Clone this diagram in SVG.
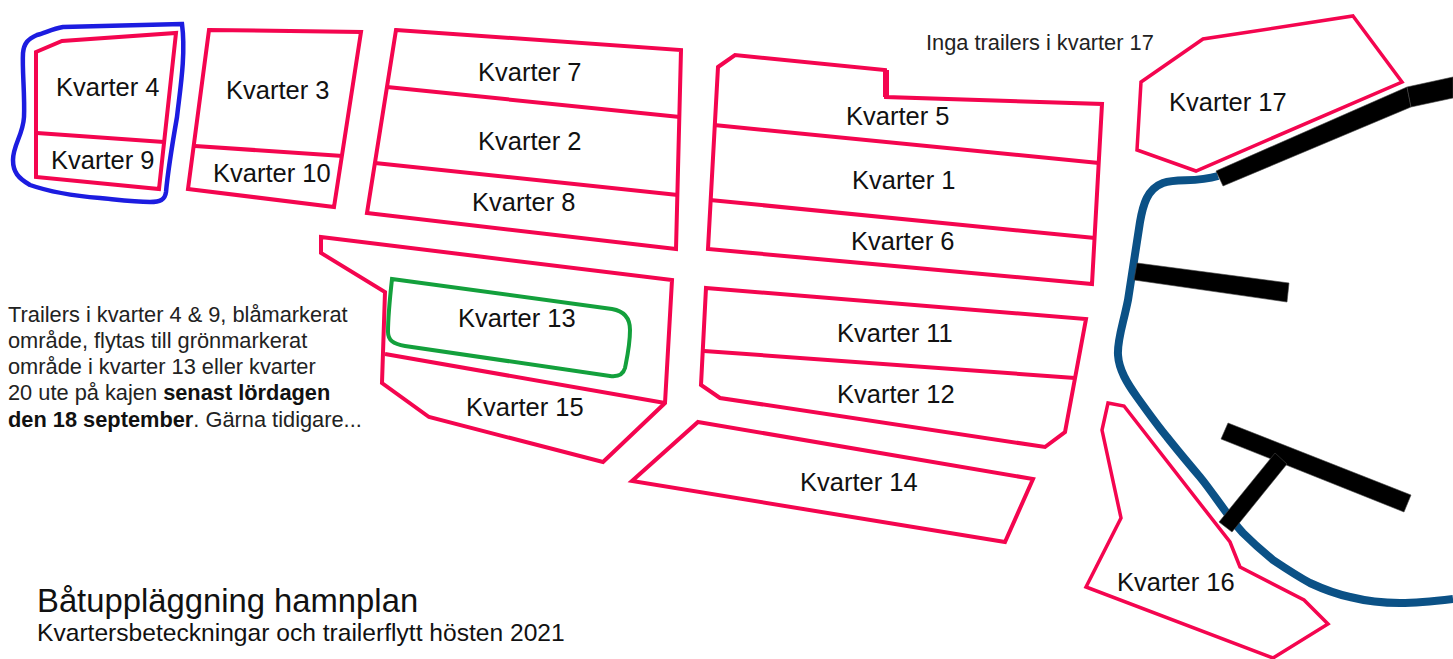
<svg xmlns="http://www.w3.org/2000/svg" width="1453" height="659" viewBox="0 0 1453 659">
<style>
.q{fill:none;stroke:#f4054f;stroke-width:4;stroke-linejoin:miter}
.t{font-family:"Liberation Sans",Arial,sans-serif;font-size:25.5px;fill:#111}
.n{font-family:"Liberation Sans",Arial,sans-serif;font-size:21.8px;fill:#222}
.p{fill:#000;stroke:#444;stroke-width:.6}
</style>
<rect width="1453" height="659" fill="#fff"/>
<g id="water">
<path d="M1218 176C1195 183 1178 178 1163 183C1147 189 1143 205 1140 222L1128 300C1123 325 1117 340 1118 355C1119 370 1127 383 1137 397C1147 411 1157 425 1167 437C1178 451 1189 464 1200 477C1214 494 1228 517 1243 533C1252 542 1262 551 1273 560C1285 568 1297 576 1310 583C1323 589 1336 594 1350 597C1366 601 1383 603 1400 603C1418 603 1436 601 1453 599" fill="none" stroke="#0b5186" stroke-width="8"/>
</g>
<g id="piers">
<polygon class="p" points="1216,171 1407,87 1411,107 1223,186"/>
<polygon class="p" points="1407,87 1453,77 1453,98 1411,107"/>
<polygon class="p" points="1137,263 1289,283 1287,302 1134,280"/>
<polygon class="p" points="1228,423 1411,495 1404,512 1221,439"/>
<polygon class="p" points="1275,453 1287,464 1232,532 1219,522"/>
</g>
<g id="kv4-9">
<polygon class="q" points="36,52 62,41 176,33 159,189 36,177"/>
<line class="q" x1="37" y1="133" x2="164" y2="142"/>
<text class="t" x="56" y="96">Kvarter 4</text>
<text class="t" x="51" y="169">Kvarter 9</text>
</g>
<g id="blue-area">
<path d="M182 24L63 27C52 29 45 33 37 35C28 39 24 43 23 53C22 70 25 95 24 117C23 135 13 145 13 160C13 172 18 178 30 185C50 192 75 196 100 198C120 200 135 202 150 202C160 202 165 200 166 192C168 170 173 140 177 117C180 90 186 55 182 24Z" fill="none" stroke="#1c1ce0" stroke-width="4.5"/>
</g>
<g id="kv3-10">
<polygon class="q" points="209,30 361,32 334,207 188,189"/>
<line class="q" x1="195" y1="146" x2="343" y2="156"/>
<text class="t" x="226" y="99">Kvarter 3</text>
<text class="t" x="213" y="182">Kvarter 10</text>
</g>
<g id="kv7-2-8">
<polygon class="q" points="396,30 681,50 676,249 367,213"/>
<line class="q" x1="387" y1="87" x2="680" y2="117"/>
<line class="q" x1="375" y1="163" x2="678" y2="195"/>
<text class="t" x="478" y="81">Kvarter 7</text>
<text class="t" x="478" y="150">Kvarter 2</text>
<text class="t" x="472" y="211">Kvarter 8</text>
</g>
<g id="kv5-1-6">
<polygon class="q" points="718,67 735,55 885,70 886,97 1102,104 1092,284 708,249"/>
<line class="q" x1="886" y1="70" x2="886" y2="97" style="stroke-width:6"/>
<line class="q" x1="714" y1="125" x2="1099" y2="163"/>
<line class="q" x1="710" y1="200" x2="1095" y2="238"/>
<text class="t" x="846" y="125">Kvarter 5</text>
<text class="t" x="852" y="189">Kvarter 1</text>
<text class="t" x="851" y="250">Kvarter 6</text>
</g>
<g id="kv13-15">
<polygon class="q" points="321,237 672,280 665,403 603,462 429,417 382,383 385,292 321,253"/>
<line class="q" x1="385" y1="354" x2="665" y2="403"/>
<text class="t" x="458" y="327">Kvarter 13</text>
<text class="t" x="466" y="416">Kvarter 15</text>
</g>
<g id="green-area">
<path d="M392 279L612 309C624 311 630 318 630 330C630 345 627 358 625 368C623 375 618 377 610 376L405 346C393 344 388 340 388 332C388 315 390 297 392 279Z" fill="none" stroke="#13a03c" stroke-width="4"/>
</g>
<g id="kv11-12">
<polygon class="q" points="706,288 1086,319 1065,432 1045,447 720,398 701,385"/>
<line class="q" x1="704" y1="351" x2="1075" y2="378"/>
<text class="t" x="837" y="342">Kvarter 11</text>
<text class="t" x="837" y="403">Kvarter 12</text>
</g>
<g id="kv14">
<polygon class="q" points="698,422 1033,479 1005,542 632,481"/>
<text class="t" x="800" y="491">Kvarter 14</text>
</g>
<g id="kv17">
<polygon class="q" style="stroke-width:3.5" points="1353,16 1402,82 1196,171 1137,150 1141,82 1203,39"/>
<text class="t" x="1169" y="111">Kvarter 17</text>
</g>
<g id="kv16">
<polygon class="q" style="stroke-width:3.5" points="1108,403 1124,406 1230,542 1240,567 1304,600 1328,624 1273,658 1086,587 1121,518 1102,430"/>
<text class="t" x="1117" y="591">Kvarter 16</text>
</g>
<g id="notes">
<text class="n" x="926" y="50">Inga trailers i kvarter 17</text>
<text class="n" x="8" y="322">Trailers i kvarter 4 &amp; 9, blåmarkerat</text>
<text class="n" x="8" y="348">område, flytas till grönmarkerat</text>
<text class="n" x="8" y="374">område i kvarter 13 eller kvarter</text>
<text class="n" x="8" y="400">20 ute på kajen <tspan font-weight="bold" fill="#111">senast lördagen</tspan></text>
<text class="n" x="8" y="427"><tspan font-weight="bold" fill="#111">den 18 september</tspan>. Gärna tidigare...</text>
<text x="37" y="612" style="font-family:'Liberation Sans',Arial,sans-serif;font-size:32.8px;fill:#111">Båtuppläggning hamnplan</text>
<text x="37" y="641" style="font-family:'Liberation Sans',Arial,sans-serif;font-size:24.6px;fill:#111">Kvartersbeteckningar och trailerflytt hösten 2021</text>
</g>
</svg>
